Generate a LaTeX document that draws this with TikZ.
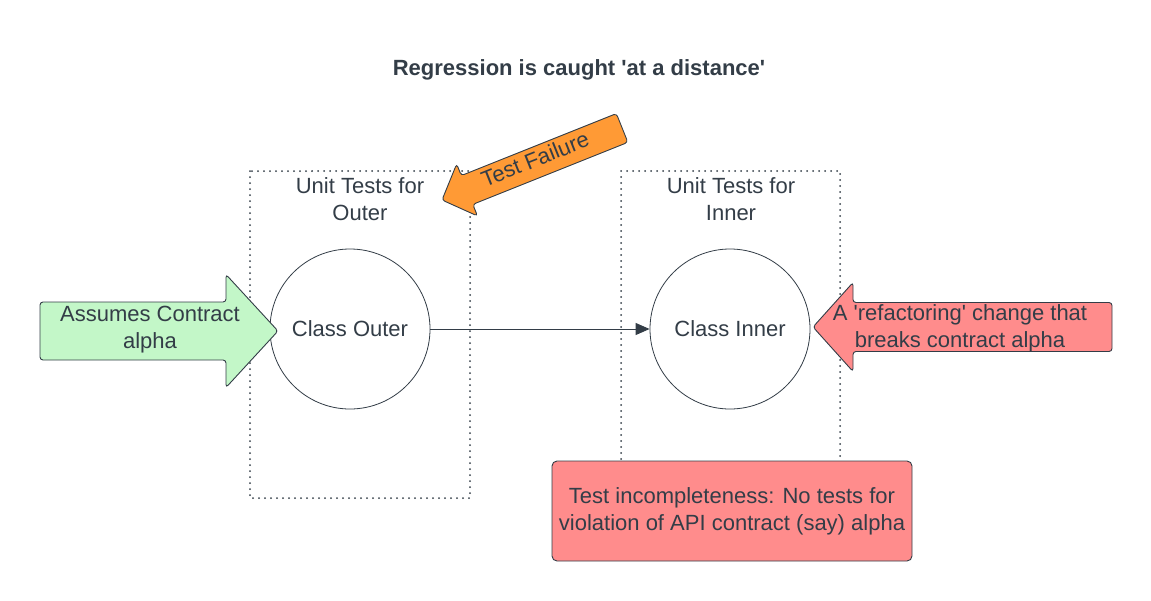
\documentclass[tikz,border=0pt]{standalone}
\usepackage{fontspec}
\setmainfont{Liberation Sans}
\usetikzlibrary{arrows.meta}
\definecolor{txt}{HTML}{333D47}
\definecolor{gfill}{HTML}{C3F7C8}
\definecolor{rfill}{HTML}{FF8C8C}
\definecolor{ofill}{HTML}{FF9A35}
\newcommand\sq{\textquotesingle}
\tikzset{
  lbl/.style={text=txt, font=\fontsize{22}{27}\selectfont, align=center, inner sep=0pt},
  circ/.style={circle, draw=txt, line width=0.8pt, fill=white, minimum size=160pt, lbl},
  dotbox/.style={draw=txt, line width=2pt, dash pattern=on 0pt off 6pt, line cap=round, inner sep=0pt},
  conn/.style={draw=txt, line width=1pt, -{Triangle[length=14pt,width=12pt]}},
  blockarrow/.style={draw=txt, line width=0.9pt, rounded corners=3pt},
  notebox/.style={draw=txt, line width=0.9pt, rounded corners=5pt, fill=rfill,
    minimum width=360pt, minimum height=100pt, lbl},
}
% #1 style, #2 tip, #3 angle, #4 length, #5 head length, #6 head width, #7 body width
\newcommand\myblockarrow[7]{%
  \path[blockarrow,#1,shift={(#2)},rotate=#3]
    (0,0) -- (#5,#6/2) -- (#5,#7/2) -- (#4,#7/2) -- (#4,-#7/2) -- (#5,-#7/2) -- (#5,-#6/2) -- cycle;}
\begin{document}
\begin{tikzpicture}[x=1pt,y=-1pt]
\useasboundingbox (0,0) rectangle (1151,600);

\node[text=txt, font=\bfseries\fontsize{22}{26}\selectfont] (title) at (579,70) {Regression is caught \sq at a distance\sq};

% dotted boxes
\draw[dotbox] (250,171) rectangle (470,498);
\draw[dotbox] (621,171) rectangle (840,498);
\node[lbl] (utOuter) at (360,199) {Unit Tests for\\Outer};
\node[lbl] (utInner) at (731,199) {Unit Tests for\\Inner};

% classes
\node[circ] (outer) at (350,329) {Class Outer};
\node[circ] (inner) at (730,329) {Class Inner};
\draw[conn] (outer.east) -- (inner.west);

% note box
\node[notebox] (note) at (732,511) {Test incompleteness: No tests for\\violation of API contract (say) alpha};

% block arrows
\myblockarrow{fill=gfill}{278,331}{180}{238}{52}{113}{58}
\node[lbl] (assumes) at (150,330) {Assumes Contract\\alpha};

\myblockarrow{fill=rfill}{813,327}{0}{299}{40}{89}{49}
\node[lbl] (refact) at (960,328) {A \sq refactoring\sq{} change that\\breaks contract alpha};

\myblockarrow{fill=ofill}{442,200}{21.8}{194}{27}{56}{31}
\node[lbl, rotate=21.8] (fail) at (535,159) {Test Failure};
\end{tikzpicture}
\end{document}
